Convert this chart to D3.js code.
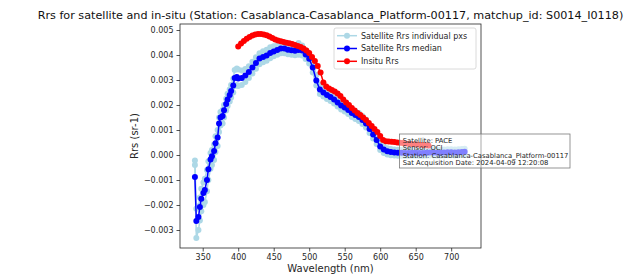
<!DOCTYPE html>
<html>
<head>
<meta charset="utf-8">
<script src="https://cdn.jsdelivr.net/npm/d3@7"></script>
<style>
  body { margin: 0; background: #fff; }
  svg  { display: block; font-family: 'DejaVu Sans', sans-serif; }
</style>
</head>
<body>
<svg id="chart" width="636" height="274"></svg>
<script>
// Satellite (PACE OCI) wavelengths, nm
const satWavelengths = [
  339, 341, 344, 346, 348, 351, 353, 356, 358, 361, 363, 366, 368, 371, 373, 375, 378, 380, 383, 385,
  388, 390, 393, 395, 398, 400,
  405, 410, 415, 420, 425, 430, 435, 440, 445, 450, 455, 460, 465, 470, 475, 480, 485, 490, 495, 500,
  505, 510, 515, 520, 525, 530, 535, 540, 545, 550, 555, 560, 565, 570, 575, 580, 585, 590, 595, 600,
  605, 610, 615, 620, 625, 630, 635, 640, 645, 650, 655, 660, 665, 670, 675, 680, 685, 690, 695, 700,
  705, 710, 715, 719
];

// Median of the satellite pixels
const satMedian = [
  -0.00088, -0.00264, -0.00248, -0.00208, -0.00175, -0.00152, -0.00140, -0.00100, -0.00057, -0.00018,
  -0.00005, 0.00016, 0.00047, 0.00070, 0.00126, 0.00150, 0.00156, 0.00179, 0.00204, 0.00222,
  0.00240, 0.00256, 0.00278, 0.00308, 0.00312, 0.00306,
  0.00308, 0.00318, 0.00332, 0.00350, 0.00368, 0.00386, 0.00392, 0.00398, 0.00408, 0.00414,
  0.00420, 0.00426, 0.00426, 0.00421, 0.00419, 0.00417, 0.00420, 0.00418, 0.00402, 0.00385,
  0.00350, 0.00298, 0.00262, 0.00250, 0.00240, 0.00232, 0.00222, 0.00210, 0.00198, 0.00190,
  0.00180, 0.00168, 0.00160, 0.00152, 0.00140, 0.00126, 0.00104, 0.00082, 0.00060, 0.00034,
  0.00022, 0.00015, 0.00012, 0.00010, 0.00009, 0.00009, 0.00008, 0.00008, 0.00009, 0.00009,
  0.00008, 0.00008, 0.00009, 0.00010, 0.00010, 0.00009, 0.00009, 0.00010, 0.00011, 0.00011,
  0.00010, 0.00011, 0.00012, 0.00013
];

// Individual pixels (highest and lowest of the box)
const satPxHigh = [
  -0.00022, -0.00215, -0.00205, -0.00170, -0.00135, -0.00110, -0.00095, -0.00060, -0.00025, 0.00008,
  0.00020, 0.00042, 0.00075, 0.00100, 0.00150, 0.00172, 0.00180, 0.00200, 0.00225, 0.00245,
  0.00262, 0.00280, 0.00305, 0.00340, 0.00346, 0.00342,
  0.00338, 0.00344, 0.00355, 0.00373, 0.00391, 0.00407, 0.00415, 0.00421, 0.00431, 0.00435,
  0.00439, 0.00445, 0.00443, 0.00439, 0.00437, 0.00439, 0.00448, 0.00438, 0.00420, 0.00402,
  0.00370, 0.00320, 0.00280, 0.00266, 0.00256, 0.00248, 0.00238, 0.00226, 0.00214, 0.00206,
  0.00196, 0.00184, 0.00176, 0.00168, 0.00156, 0.00142, 0.00120, 0.00098, 0.00076, 0.00048,
  0.00036, 0.00027, 0.00024, 0.00022, 0.00021, 0.00021, 0.00020, 0.00020, 0.00021, 0.00021,
  0.00020, 0.00020, 0.00021, 0.00022, 0.00022, 0.00021, 0.00021, 0.00022, 0.00023, 0.00023,
  0.00022, 0.00023, 0.00024, 0.00025
];
const satPxLow = [
  -0.00040, -0.00332, -0.00300, -0.00262, -0.00225, -0.00200, -0.00188, -0.00145, -0.00100, -0.00055,
  -0.00040, -0.00020, 0.00012, 0.00036, 0.00092, 0.00118, 0.00126, 0.00150, 0.00178, 0.00196,
  0.00214, 0.00230, 0.00250, 0.00276, 0.00280, 0.00276,
  0.00280, 0.00292, 0.00308, 0.00326, 0.00345, 0.00363, 0.00371, 0.00377, 0.00387, 0.00395,
  0.00401, 0.00407, 0.00407, 0.00403, 0.00401, 0.00399, 0.00401, 0.00398, 0.00384, 0.00366,
  0.00330, 0.00278, 0.00244, 0.00234, 0.00224, 0.00216, 0.00206, 0.00194, 0.00182, 0.00174,
  0.00164, 0.00152, 0.00144, 0.00136, 0.00124, 0.00110, 0.00088, 0.00066, 0.00044, 0.00020,
  0.00008, 0.00002, -0.00001, -0.00002, -0.00003, -0.00003, -0.00004, -0.00004, -0.00003, -0.00003,
  -0.00004, -0.00004, -0.00003, -0.00002, -0.00002, -0.00003, -0.00003, -0.00002, -0.00001, -0.00001,
  -0.00002, -0.00001, 0.00000, 0.00001
];

// In-situ radiometer
const insituWavelengths = [
  400, 404, 408, 412, 416, 420, 424, 428, 432, 436, 440, 444, 448, 452, 456, 460, 464, 468, 472, 476,
  480, 484, 488, 492, 496, 500, 504, 508, 512, 516, 520, 524, 528, 532, 536, 540, 544, 548, 552, 556,
  560, 564, 568, 572, 576, 580, 584, 588, 592, 596, 600, 604, 608, 612, 616, 620, 624, 628, 632, 636,
  640, 644, 648, 652, 656, 660, 664, 668
];
const insituRrs = [
  0.00434, 0.00446, 0.00456, 0.00465, 0.00472, 0.00478, 0.00482, 0.00484, 0.00484, 0.00482,
  0.00479, 0.00474, 0.00468, 0.00462, 0.00458, 0.00455, 0.00452, 0.00449, 0.00447, 0.00444,
  0.00440, 0.00436, 0.00432, 0.00426, 0.00418, 0.00408, 0.00392, 0.00376, 0.00356, 0.00330,
  0.00290, 0.00274, 0.00266, 0.00260, 0.00254, 0.00246, 0.00236, 0.00222, 0.00210, 0.00200,
  0.00188, 0.00178, 0.00168, 0.00160, 0.00150, 0.00140, 0.00128, 0.00116, 0.00104, 0.00092,
  0.00076, 0.00060, 0.00055, 0.00054, 0.00053, 0.00052, 0.00050, 0.00049, 0.00048, 0.00046,
  0.00045, 0.00044, 0.00043, 0.00042, 0.00041, 0.00040, 0.00039, 0.00038
];

const xTicks = [350, 400, 450, 500, 550, 600, 650, 700];
const yTicks = [-0.003, -0.002, -0.001, 0.000, 0.001, 0.002, 0.003, 0.004, 0.005];

const titleText  = 'Rrs for satellite and in-situ (Station: Casablanca-Casablanca_Platform-00117, matchup_id: S0014_I0118)';
const legendText = ['Satellite Rrs individual pxs', 'Satellite Rrs median', 'Insitu Rrs'];
const infoLines  = [
  'Satellite: PACE',
  'Sensor: OCI',
  'Station: Casablanca-Casablanca_Platform-00117',
  'Sat Acquisition Date: 2024-04-09 12:20:08'
];

// ---- layout ----
let svg    = d3.select('#chart'),
    plot   = { left: 180, right: 481, top: 24, bottom: 248 },
    ink    = '#262626',
    radius = 3;

let x = d3.scaleLinear().domain([318, 742]).range([plot.left, plot.right]),
    y = d3.scaleLinear().domain([-0.00372, 0.00524]).range([plot.bottom, plot.top]);

// Title (centred on the axes, runs past the right edge like the original)
svg.append('text')
    .attr('x', (plot.left + plot.right) / 2)
    .attr('y', 19)
    .attr('text-anchor', 'middle')
    .attr('font-size', 11.2)
    .attr('fill', '#111')
    .text(titleText);

// Axes
let xAxis = svg.append('g')
    .attr('transform', 'translate(0,' + plot.bottom + ')')
    .call(d3.axisBottom(x).tickValues(xTicks).tickSize(3.5).tickPadding(3).tickFormat(d3.format('d')));
let yAxis = svg.append('g')
    .attr('transform', 'translate(' + plot.left + ',0)')
    .call(d3.axisLeft(y).tickValues(yTicks).tickSize(3.5).tickPadding(3).tickFormat(d3.format('.3f')));

[xAxis, yAxis].forEach((g) => {
  g.select('.domain').remove();
  g.selectAll('line').attr('stroke', ink).attr('stroke-width', 0.8);
  g.selectAll('text').attr('fill', ink).attr('font-size', 8).attr('font-family', 'DejaVu Sans');
});

svg.append('text')
    .attr('x', (plot.left + plot.right) / 2)
    .attr('y', 272)
    .attr('text-anchor', 'middle')
    .attr('font-size', 10)
    .attr('fill', ink)
    .text('Wavelength (nm)');

svg.append('text')
    .attr('transform', 'translate(138,' + (plot.top + plot.bottom) / 2 + ') rotate(-90)')
    .attr('text-anchor', 'middle')
    .attr('font-size', 10)
    .attr('fill', ink)
    .text('Rrs (sr-1)');

// Series: line + markers, drawn in matplotlib's order
let line = d3.line().x((d) => x(d[0])).y((d) => y(d[1]));

function drawSeries (wl, values, color) {
  let pts = wl.map((w, i) => [w, values[i]]),
      g   = svg.append('g');
  g.append('path')
      .attr('d', line(pts))
      .attr('fill', 'none')
      .attr('stroke', color)
      .attr('stroke-width', 1.5);
  g.selectAll('circle')
      .data(pts)
      .enter()
      .append('circle')
      .attr('cx', (d) => x(d[0]))
      .attr('cy', (d) => y(d[1]))
      .attr('r', radius)
      .attr('fill', color);
}

drawSeries(satWavelengths, satPxHigh, 'lightblue');
drawSeries(satWavelengths, satPxLow, 'lightblue');
drawSeries(satWavelengths, satMedian, 'blue');
drawSeries(insituWavelengths, insituRrs, 'red');

// Frame
svg.append('rect')
    .attr('x', plot.left)
    .attr('y', plot.top)
    .attr('width', plot.right - plot.left)
    .attr('height', plot.bottom - plot.top)
    .attr('fill', 'none')
    .attr('stroke', ink)
    .attr('stroke-width', 0.8);

// Legend
let legend = svg.append('g').attr('transform', 'translate(334,28)'),
    legendColors = ['lightblue', 'blue', 'red'];

legend.append('rect')
    .attr('width', 142)
    .attr('height', 41)
    .attr('rx', 2)
    .attr('fill', 'rgba(255,255,255,0.8)')
    .attr('stroke', '#d0d0d0')
    .attr('stroke-width', 0.8);

legendText.forEach((label, i) => {
  let cy = 7.7 + i * 12.8;
  legend.append('line')
      .attr('x1', 3).attr('x2', 23)
      .attr('y1', cy).attr('y2', cy)
      .attr('stroke', legendColors[i])
      .attr('stroke-width', 1.5);
  legend.append('circle')
      .attr('cx', 13).attr('cy', cy)
      .attr('r', radius)
      .attr('fill', legendColors[i]);
  legend.append('text')
      .attr('x', 27).attr('y', cy + 2.9)
      .attr('font-size', 8)
      .attr('fill', ink)
      .text(label);
});

// Info box (half transparent, sits over the curves)
let info = svg.append('g').attr('transform', 'translate(399.5,134)');
info.append('rect')
    .attr('width', 170.5)
    .attr('height', 34)
    .attr('fill', 'rgba(255,255,255,0.5)')
    .attr('stroke', '#7a7a7a')
    .attr('stroke-width', 0.8);

infoLines.forEach((t, i) => {
  info.append('text')
      .attr('x', 3.3)
      .attr('y', 8.8 + i * 7.4)
      .attr('font-size', 6.8)
      .attr('fill', ink)
      .text(t);
});
</script>
</body>
</html>
